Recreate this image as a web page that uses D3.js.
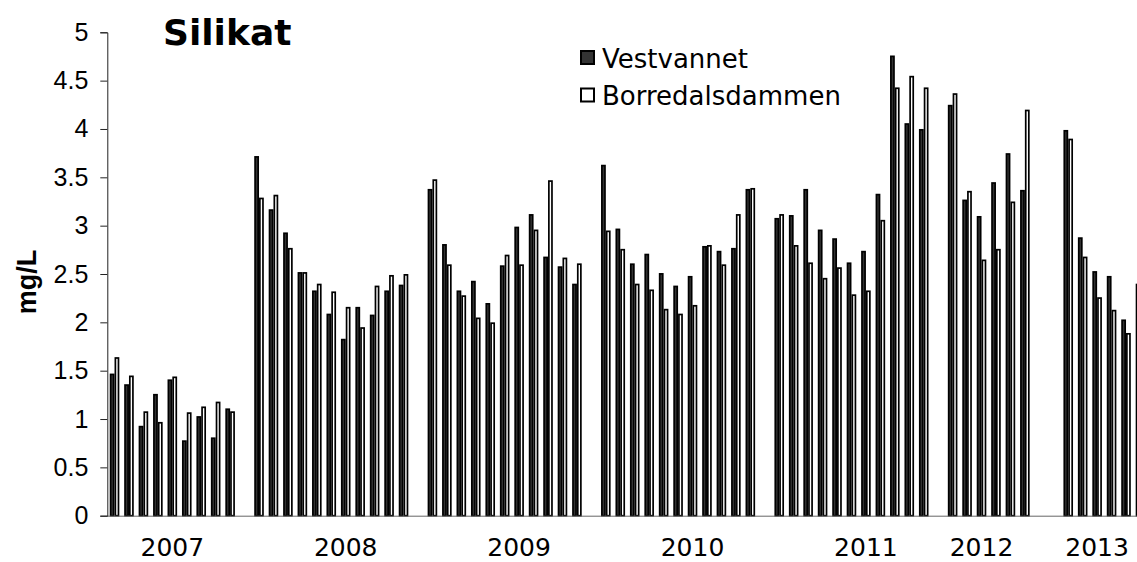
<!DOCTYPE html>
<html>
<head>
<meta charset="utf-8">
<script src="https://cdn.jsdelivr.net/npm/d3@7"></script>
<style>
  html, body { margin: 0; padding: 0; background: #fff; overflow: hidden; }
  svg { display: block; }
</style>
</head>
<body>
<div id="chart"></div>
<script>
// Silikat, Vestvannet vs Borredalsdammen (mg/L)
// one entry per sampling slot, null = empty slot in the original chart
var vestvannet = [
    1.47, 1.36, 0.93, 1.26, 1.41, 0.78, 1.03, 0.81, 1.11, null,
    3.72, 3.17, 2.93, 2.52, 2.33, 2.09, 1.83, 2.16, 2.08, 2.33, 2.39, null,
    3.38, 2.81, 2.33, 2.43, 2.20, 2.59, 2.99, 3.12, 2.68, 2.58, 2.40, null,
    3.63, 2.97, 2.61, 2.71, 2.51, 2.38, 2.48, 2.79, 2.74, 2.77, 3.38, null,
    3.08, 3.11, 3.38, 2.96, 2.87, 2.62, 2.74, 3.33, 4.76, 4.06, 4.00, null,
    4.25, 3.27, 3.10, 3.45, 3.75, 3.37, null, null,
    3.99, 2.88, 2.53, 2.48, 2.03, 2.40
];
var borredalsdammen = [
    1.64, 1.45, 1.08, 0.97, 1.44, 1.07, 1.13, 1.18, 1.08, null,
    3.29, 3.32, 2.77, 2.52, 2.40, 2.32, 2.16, 1.95, 2.38, 2.49, 2.50, null,
    3.48, 2.60, 2.28, 2.05, 2.00, 2.70, 2.60, 2.96, 3.47, 2.67, 2.61, null,
    2.95, 2.76, 2.40, 2.34, 2.14, 2.09, 2.18, 2.80, 2.60, 3.12, 3.39, null,
    3.12, 2.80, 2.62, 2.46, 2.57, 2.29, 2.33, 3.06, 4.43, 4.55, 4.43, null,
    4.37, 3.36, 2.65, 2.76, 3.25, 4.20, null, null,
    3.90, 2.68, 2.26, 2.13, 1.89, null
];
var seriesNames = ['Vestvannet', 'Borredalsdammen'];
var yearLabels = ['2007', '2008', '2009', '2010', '2011', '2012', '2013'];
var yearSlots = [4, 16, 28, 40, 52, 60, 68];
var yTicks = [0, 0.5, 1, 1.5, 2, 2.5, 3, 3.5, 4, 4.5, 5];

var width = 1137, height = 562;
var margin = {top: 32.3, left: 107.3, bottom: 46.3};
var slotStep = 14.45;

var svg = d3.select('#chart').append('svg')
    .attr('width', width)
    .attr('height', height);

var y = d3.scaleLinear()
    .domain([0, 5])
    .range([height - margin.bottom, margin.top]);

var slots = d3.range(vestvannet.length);
var x = d3.scaleBand()
    .domain(slots)
    .range([margin.left, margin.left + slots.length * slotStep])
    .paddingInner(0.336)
    .paddingOuter(0.168);

var xs = d3.scaleBand()
    .domain(seriesNames)
    .range([0, x.bandwidth()]);

var rows = slots.map(function(i) {
    return {i: i, values: [vestvannet[i], borredalsdammen[i]]};
});

var fills = {'Vestvannet': '#333333', 'Borredalsdammen': '#ffffff'};
var sw = 1.7;

// bars
var g = svg.append('g').attr('class', 'bars');
rows.forEach(function(r) {
    seriesNames.forEach(function(name, k) {
        var v = r.values[k];
        if (v == null) return;
        g.append('rect')
            .attr('x', x(r.i) + xs(name) + sw / 2)
            .attr('y', y(v) + sw / 2)
            .attr('width', xs.bandwidth() - sw)
            .attr('height', y(0) - y(v) - sw / 2)
            .attr('fill', fills[name])
            .attr('stroke', '#000')
            .attr('stroke-width', sw);
    });
});

// x axis line
svg.append('line')
    .attr('x1', margin.left)
    .attr('x2', width)
    .attr('y1', y(0) + 0.5)
    .attr('y2', y(0) + 0.5)
    .attr('stroke', '#666')
    .attr('stroke-width', 1);

// year labels
svg.append('g').selectAll('text')
    .data(yearLabels)
    .enter().append('text')
    .attr('x', function(d, i) { return x(yearSlots[i]) + x.bandwidth() / 2; })
    .attr('y', 556)
    .attr('text-anchor', 'middle')
    .attr('font-family', 'DejaVu Sans, Verdana, sans-serif')
    .attr('font-size', 25)
    .attr('fill', '#000')
    .text(function(d) { return d; });

// y axis
var yAxis = d3.axisLeft(y)
    .tickValues(yTicks)
    .tickSize(7)
    .tickPadding(12)
    .tickFormat(d3.format('~g'));

var ya = svg.append('g')
    .attr('transform', 'translate(' + margin.left + ',0)')
    .call(yAxis);
ya.select('.domain').attr('stroke', '#222');
ya.selectAll('.tick line').attr('stroke', '#222');
ya.selectAll('.tick text')
    .attr('font-family', 'Liberation Sans, Arial, sans-serif')
    .attr('font-size', 25)
    .attr('fill', '#000');

// y axis title
svg.append('text')
    .attr('transform', 'translate(36,' + 282 + ') rotate(-90)')
    .attr('text-anchor', 'middle')
    .attr('font-family', 'Liberation Sans, Arial, sans-serif')
    .attr('font-weight', 'bold')
    .attr('font-size', 27)
    .text('mg/L');

// title
svg.append('text')
    .attr('x', 163)
    .attr('y', 45)
    .attr('font-family', 'DejaVu Sans, Verdana, sans-serif')
    .attr('font-weight', 'bold')
    .attr('font-size', 36)
    .text('Silikat');

// legend
var legend = svg.append('g')
    .attr('transform', 'translate(580,50)');
var li = legend.selectAll('g')
    .data(seriesNames)
    .enter().append('g')
    .attr('transform', function(d, i) { return 'translate(0,' + (i * 37.5) + ')'; });
li.append('rect')
    .attr('x', 1)
    .attr('y', 1)
    .attr('width', 13)
    .attr('height', 13)
    .attr('fill', function(d) { return fills[d]; })
    .attr('stroke', '#000')
    .attr('stroke-width', 2);
li.append('text')
    .attr('x', 22)
    .attr('y', 17.5)
    .attr('font-family', 'DejaVu Sans, Verdana, sans-serif')
    .attr('font-size', 26)
    .attr('fill', '#000')
    .text(function(d) { return d; });
</script>
</body>
</html>
